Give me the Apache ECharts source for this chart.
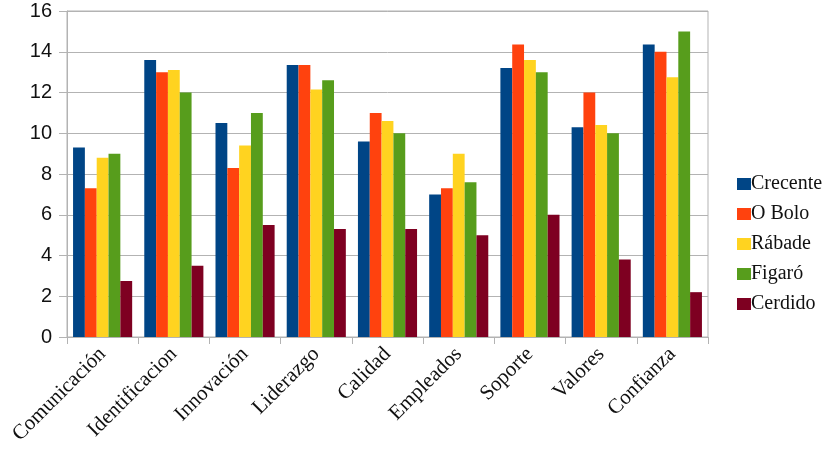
<!DOCTYPE html>
<html>
<head>
<meta charset="utf-8">
<script src="https://cdn.jsdelivr.net/npm/echarts@6/dist/echarts.min.js"></script>
<style>
  html, body { margin: 0; padding: 0; background: #fff; }
  #chart { width: 840px; height: 458px; }
</style>
</head>
<body>
<div id="chart"></div>
<script>
// categorías y valores
const categories = ['Comunicación', 'Identificacion', 'Innovación', 'Liderazgo', 'Calidad', 'Empleados', 'Soporte', 'Valores', 'Confianza'];
const seriesNames = ['Crecente', 'O Bolo', 'Rábade', 'Figaró', 'Cerdido'];
const crecente = [9.3, 13.6, 10.5, 13.35, 9.6, 7.0, 13.2, 10.3, 14.35];
const oBolo    = [7.3, 13.0, 8.3, 13.35, 11.0, 7.3, 14.35, 12.0, 14.0];
const rabade   = [8.8, 13.1, 9.4, 12.15, 10.6, 9.0, 13.6, 10.4, 12.75];
const figaro   = [9.0, 12.0, 11.0, 12.6, 10.0, 7.6, 13.0, 10.0, 15.0];
const cerdido  = [2.75, 3.5, 5.5, 5.3, 5.3, 5.0, 6.0, 3.8, 2.2];
const colors = ['#004586', '#ff420e', '#ffd320', '#579d1c', '#7e0021'];

const chart = echarts.init(document.getElementById('chart'));
const allData = [crecente, oBolo, rabade, figaro, cerdido];

chart.setOption({
  animation: false,
  color: colors,
  grid: {
    left: 67, top: 11, width: 641, height: 326,
    show: true, borderColor: '#b3b3b3', borderWidth: 1
  },
  legend: {
    orient: 'vertical',
    left: 732, top: 169,
    itemWidth: 14, itemHeight: 12, itemGap: 10,
    icon: 'rect',
    formatter: '{s|{name}}',
    textStyle: {
      padding: [0, 0, 0, -5],
      rich: { s: { fontFamily: 'Liberation Serif', fontSize: 20, color: '#111' } }
    },
    data: seriesNames
  },
  xAxis: {
    type: 'category',
    data: categories,
    axisLine: { lineStyle: { color: '#b3b3b3' } },
    axisTick: { show: true, length: 7, lineStyle: { color: '#b3b3b3' } },
    axisLabel: {
      rotate: 45, interval: 0, margin: 14,
      fontFamily: 'Liberation Serif', fontSize: 21, color: '#111'
    }
  },
  yAxis: {
    type: 'value',
    min: 0, max: 16, interval: 2,
    axisLine: { show: true, lineStyle: { color: '#b3b3b3' } },
    axisTick: { show: true, length: 8, lineStyle: { color: '#b3b3b3' } },
    splitLine: { lineStyle: { color: '#b3b3b3' } },
    axisLabel: { fontFamily: 'Liberation Sans', fontSize: 20, color: '#111', margin: 15 }
  },
  series: seriesNames.map((name, i) => ({
    name: name,
    type: 'bar',
    data: allData[i],
    barGap: '0%',
    barCategoryGap: '17%'
  }))
});
</script>
</body>
</html>
